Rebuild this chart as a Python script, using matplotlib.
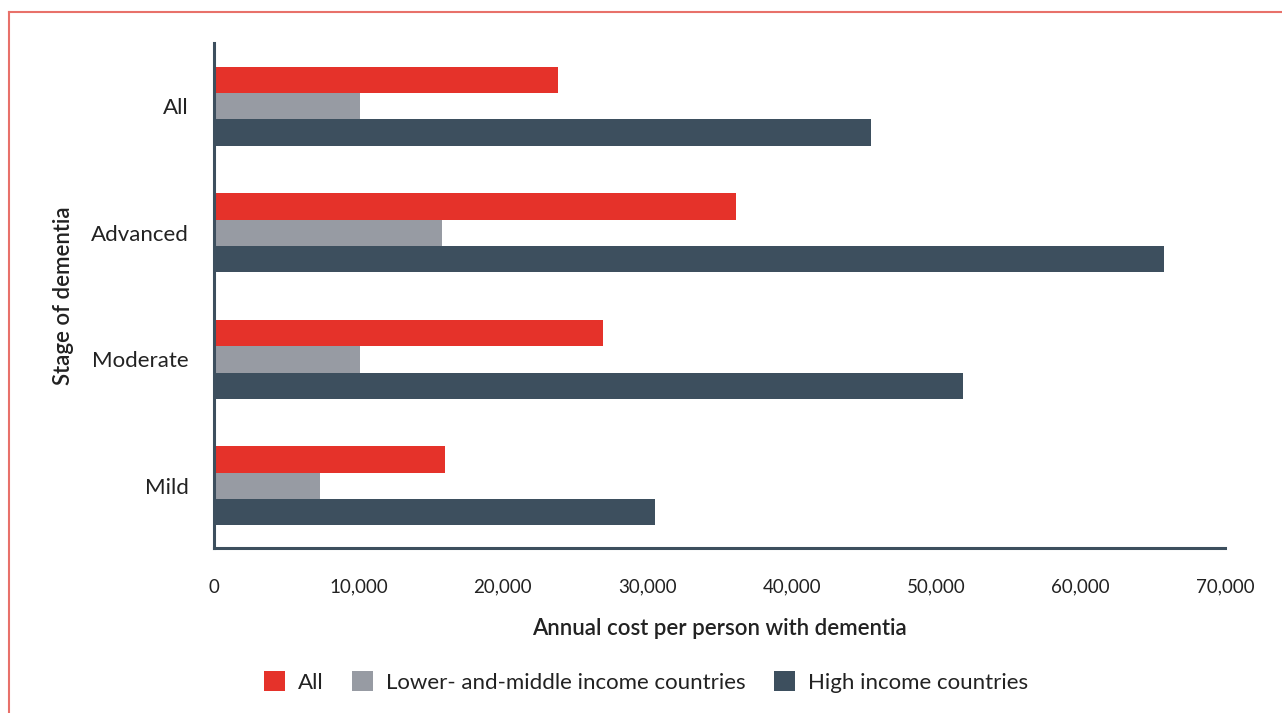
import matplotlib
matplotlib.use("Agg")
import matplotlib.pyplot as plt
from matplotlib.patches import Patch
from matplotlib.ticker import FuncFormatter
import numpy as np

plt.rcParams['font.family'] = ['Lato', 'DejaVu Sans']

stages = ["Mild", "Moderate", "Advanced", "All"]
series_names = ["All", "Lower- and-middle income countries", "High income countries"]
all_vals = [16000, 26950, 36150, 23800]
lmic_vals = [7350, 10100, 15800, 10100]
hic_vals = [30500, 51850, 65800, 45500]
x_ticks = [0, 10000, 20000, 30000, 40000, 50000, 60000, 70000]

colors = ["#E5322A", "#979BA3", "#3D4F5E"]
spine_color = "#3D4F5E"
text_color = "#222222"

fig = plt.figure(figsize=(12.82, 7.13), dpi=100)
ax = fig.add_axes([214/1282, 1-548/713, (1225-214)/1282, (548-43)/713])

y = np.arange(len(stages))
h = 0.208
for i, (vals, c) in enumerate(zip([all_vals, lmic_vals, hic_vals], colors)):
    ax.barh(y + (1 - i) * h, vals, height=h, color=c, label=series_names[i])

ax.set_xlim(0, 70000)
ax.set_ylim(-0.49, 3.5)
ax.set_yticks(y)
ax.set_yticklabels(stages, fontsize=16, color=text_color)
ax.set_xticks(x_ticks)
ax.xaxis.set_major_formatter(FuncFormatter(lambda v, p: f"{int(v):,}"))
for lbl in ax.get_xticklabels():
    lbl.set_fontsize(13.5)
    lbl.set_color(text_color)
ax.tick_params(axis='both', length=0)
ax.tick_params(axis='y', pad=18)
ax.tick_params(axis='x', pad=22)

for s in ["top", "right"]:
    ax.spines[s].set_visible(False)
for s in ["left", "bottom"]:
    ax.spines[s].set_color(spine_color)
    ax.spines[s].set_linewidth(2.2)

ax.set_xlabel("Annual cost per person with dementia", fontsize=16, fontweight='semibold',
              color=text_color, labelpad=16)
ax.set_ylabel("Stage of dementia", fontsize=16, fontweight='semibold', color=text_color,
              labelpad=12)

handles = [Patch(facecolor=c, edgecolor='none') for c in colors]
fig.legend(handles, series_names, loc='center', bbox_to_anchor=(646/1282, 1-682/713),
           ncol=3, frameon=False, fontsize=16, handlelength=0.95, handleheight=0.95,
           columnspacing=1.25, handletextpad=0.6, labelcolor=text_color)

# decorative border (left and top)
border_color = "#E8716A"
fig.add_artist(plt.Line2D([9/1282, 9/1282], [0, 1-12/713], transform=fig.transFigure,
                          color=border_color, linewidth=1.5))
fig.add_artist(plt.Line2D([9/1282, 1], [1-12/713, 1-12/713], transform=fig.transFigure,
                          color=border_color, linewidth=1.5))

fig.savefig("out.png", dpi=100)
